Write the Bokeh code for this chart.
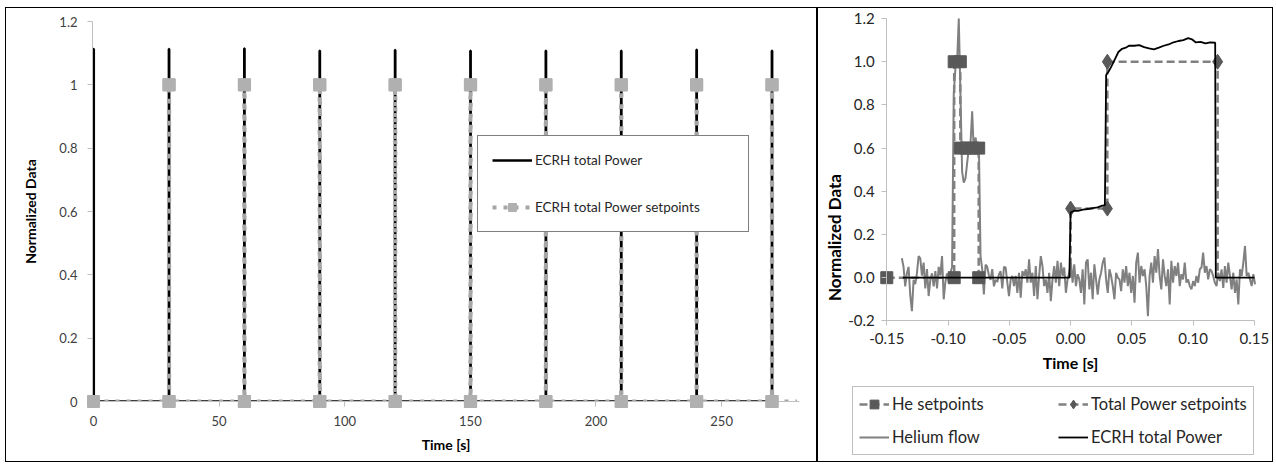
import math
from bokeh.plotting import figure
from bokeh.models import (Range1d, FixedTicker, CustomJSTickFormatter, Legend,
                          LegendItem, Label)
from bokeh.embed import file_html
from bokeh.resources import INLINE

FONT = "Lato"

# ---------------- left chart data ----------------
pulse_starts = [0, 30, 60, 90, 120, 150, 180, 210, 240, 270]
pulse_peaks = [1.113, 1.113, 1.115, 1.108, 1.110, 1.108, 1.108, 1.108, 1.111, 1.108]
pulse_length = 0.12
setpoint_starts = [30, 60, 90, 120, 150, 180, 210, 240, 270]
setpoint_level = 1.0
setpoint_first = 0
setpoint_last = 280
left_xticks = [0, 50, 100, 150, 200, 250]
left_yticks = [0, 0.2, 0.4, 0.6, 0.8, 1.0, 1.2]

# ---------------- right chart data ----------------
he_t = [-0.15, -0.095, -0.095, -0.09, -0.09, -0.085, -0.08, -0.075, -0.075]
he_v = [0.0, 0.0, 1.0, 1.0, 0.6, 0.6, 0.6, 0.6, 0.0]
pw_t = [0.0, 0.0, 0.03, 0.03, 0.12, 0.12]
pw_v = [0.0, 0.32, 0.32, 1.0, 1.0, 0.0]
pw_marked = [1, 2, 3, 4]
helium_t0 = -0.1377
helium_dt = 0.001366
helium_v = [
    0.09, 0.05, -0.04, 0.02, 0.05, -0.08, -0.155, -0.01, -0.03, 0.02,
    0.10, 0.09, 0.01, 0.07, -0.05, 0.04, -0.085, -0.01, 0.02, -0.04,
    0.03, -0.05, 0.05, 0.01, 0.10, -0.10, -0.02, 0.02, -0.02, 0.02,
    0.05, 0.85, 0.97, 1.0, 1.2, 0.85, 0.49, 0.44, 0.46, 0.53,
    0.60, 0.62, 0.77, 0.58, 0.65, 0.60, 0.62, 0.10, 0.04, -0.078,
    0.06, 0.05, 0.01, -0.01, 0.04, -0.04, -0.01, -0.02, 0.015, 0.03,
    -0.05, 0.05, 0.047, -0.023, -0.085, -0.008, 0.008, -0.039, 0.008, -0.07,
    0.023, -0.093, 0.031, 0.008, 0.039, -0.023, 0.085, -0.023, 0.023, -0.085,
    0.054, -0.10, 0.008, 0.10, 0.054, -0.039, -0.008, -0.07, 0.023, -0.109,
    -0.008, 0.054, -0.023, 0.078, -0.039, 0.07, 0.008, 0.047, -0.07, -0.008,
    0.023, 0.07, -0.023, 0.062, -0.039, 0.016, -0.008, -0.07, 0.039, -0.124,
    0.07, 0.085, -0.054, 0.023, -0.10, 0.062, -0.008, -0.078, -0.008, 0.023,
    0.07, 0.093, -0.008, -0.07, 0.039, 0.008, -0.039, -0.10, 0.023, 0.0,
    -0.008, -0.062, 0.039, -0.023, 0.054, -0.039, 0.023, -0.07, 0.008, -0.116,
    0.07, 0.116, -0.023, 0.054, 0.008, 0.039, -0.039, -0.178, 0.008, 0.07,
    -0.023, 0.10, 0.023, 0.132, 0.008, -0.054, 0.085, 0.008, -0.039, 0.039,
    -0.124, 0.078, -0.023, 0.054, 0.008, 0.07, -0.039, 0.016, -0.008, 0.07,
    -0.023, -0.008, -0.039, -0.054, -0.016, -0.039, 0.008, -0.023, 0.039, 0.047,
    0.116, 0.023, 0.054, -0.008, 0.039, 0.031, 0.008, -0.023, -0.039, 0.023,
    -0.016, 0.039, -0.047, 0.054, -0.023, 0.07, 0.008, -0.054, 0.023, -0.07,
    -0.008, -0.124, 0.039, 0.008, 0.07, 0.147, 0.008, 0.023, -0.008, -0.039,
    0.016, -0.031,
]
ecrh_t = [-0.137, -0.001, 0.0, 0.003, 0.006, 0.010, 0.014, 0.018, 0.022, 0.026,
          0.028, 0.029, 0.031, 0.033, 0.036, 0.039, 0.042, 0.045, 0.048, 0.052,
          0.056, 0.060, 0.064, 0.068, 0.072, 0.076, 0.080, 0.084, 0.088, 0.092,
          0.096, 0.099, 0.102, 0.106, 0.110, 0.114, 0.118, 0.1185, 0.15]
ecrh_v = [0.0, 0.0, 0.302, 0.31, 0.309, 0.315, 0.318, 0.322, 0.326, 0.334,
          0.336, 0.938, 0.955, 0.975, 1.01, 1.045, 1.06, 1.065, 1.075, 1.074,
          1.077, 1.068, 1.062, 1.057, 1.065, 1.074, 1.08, 1.09, 1.096, 1.1,
          1.109, 1.104, 1.09, 1.092, 1.085, 1.09, 1.088, 0.0, 0.0]
right_xticks = [-0.15, -0.10, -0.05, 0.0, 0.05, 0.10, 0.15]
right_yticks = [-0.2, 0.0, 0.2, 0.4, 0.6, 0.8, 1.0, 1.2]
right_xlim = (-0.15, 0.15)
right_ylim = (-0.2, 1.2)


def style_axes(p, tick_size, tick_color):
    for ax in (p.xaxis[0], p.yaxis[0]):
        ax.axis_line_color = "#BFBFBF"
        ax.major_tick_line_color = "#BFBFBF"
        ax.minor_tick_line_color = None
        ax.major_tick_in = 0
        ax.major_tick_out = 5
        ax.major_label_text_font = FONT
        ax.major_label_text_font_size = tick_size
        ax.major_label_text_color = tick_color
        ax.axis_label_text_font = FONT
        ax.axis_label_text_font_style = "bold"
        ax.axis_label_text_color = "#000000"
    p.grid.visible = False
    p.outline_line_color = None


# ================= left figure =================
p1 = figure(width=810, height=453, x_range=Range1d(-0.4, 281), y_range=Range1d(0, 1.2),
            output_backend="svg", toolbar_location=None,
            min_border_left=86, min_border_right=19, min_border_top=13, min_border_bottom=62,
            styles={"border": "1px solid #000000", "box-sizing": "content-box",
                    "float": "left", "margin-left": "5px", "margin-top": "7px"})
style_axes(p1, "13px", "#404040")
p1.xaxis.ticker = FixedTicker(ticks=left_xticks)
p1.yaxis.ticker = FixedTicker(ticks=left_yticks)
p1.xaxis.formatter = CustomJSTickFormatter(code="return String(Math.round(tick));")
p1.yaxis.formatter = CustomJSTickFormatter(code="return String(Math.round(tick*10)/10);")
p1.xaxis.axis_label = "Time [s]"
p1.yaxis.axis_label = "Normalized Data"
p1.xaxis.axis_label_text_font_size = "14px"
p1.yaxis.axis_label_text_font_size = "14px"
p1.xaxis.major_label_standoff = 9
p1.xaxis.axis_label_standoff = 7
p1.yaxis.major_label_standoff = 10
p1.yaxis.axis_label_standoff = 17

ex, ey = [], []
for s, pk in zip(pulse_starts, pulse_peaks):
    ex += [s, s, s + pulse_length, s + pulse_length]
    ey += [0, pk, pk, 0]
sx, sy = [setpoint_first], [0]
for s in setpoint_starts:
    sx += [s, s, s + pulse_length, s + pulse_length]
    sy += [0, setpoint_level, setpoint_level, 0]

r_ecrh1 = p1.line(ex, ey, line_color="#000000", line_width=2.5)
r_sp_line = p1.line(sx + [setpoint_last], sy + [0], line_color="#A6A6A6", line_width=4,
                    line_dash="4 7")
r_sp_mark = p1.scatter(sx, sy, marker="square", size=12, fill_color="#B0B0B0",
                       line_color="#B0B0B0", level="overlay")

leg1 = Legend(items=[LegendItem(label="ECRH total Power", renderers=[r_ecrh1]),
                     LegendItem(label="ECRH total Power setpoints", renderers=[r_sp_line, r_sp_mark])],
              location=(385, 169), margin=0, padding=14, spacing=27,
              label_height=20, glyph_height=20, glyph_width=40, label_standoff=3,
              label_width=199, border_line_color="#000000", border_line_width=1,
              label_text_font=FONT, label_text_font_size="13.5px",
              label_text_color="#262626", background_fill_alpha=1.0)
p1.add_layout(leg1, "center")

# ================= right figure =================
# the frame fills the panel so that the legend, the y title and the tick labels
# lie inside it; the axes are pinned at the chart's own limits
p2 = figure(width=454, height=453, x_range=Range1d(-0.2041, 0.1664),
            y_range=Range1d(-0.8465, 1.2465),
            output_backend="svg", toolbar_location=None,
            min_border_left=2, min_border_right=0, min_border_top=0, min_border_bottom=3,
            styles={"border": "1px solid #000000", "box-sizing": "content-box",
                    "float": "left", "margin-top": "7px"})
style_axes(p2, "15px", "#262626")
p2.xaxis.ticker = FixedTicker(ticks=right_xticks)
p2.yaxis.ticker = FixedTicker(ticks=right_yticks)
p2.xaxis.formatter = CustomJSTickFormatter(code="return tick.toFixed(2);")
p2.yaxis.formatter = CustomJSTickFormatter(code="return tick.toFixed(1);")
p2.xaxis.fixed_location = right_ylim[0]
p2.yaxis.fixed_location = right_xlim[0]
p2.xaxis.bounds = right_xlim
p2.yaxis.bounds = right_ylim
p2.xaxis.axis_label = "Time [s]"
p2.xaxis.axis_label_text_font_size = "16px"
p2.xaxis.major_label_standoff = 7
p2.xaxis.axis_label_standoff = 6
p2.yaxis.major_label_standoff = 7

helium_t = [helium_t0 + i * helium_dt for i in range(len(helium_v))]
pw_mt = [pw_t[i] for i in pw_marked]
pw_mv = [pw_v[i] for i in pw_marked]

r_he_line = p2.line(he_t, he_v, line_color="#808080", line_width=2.5, line_dash="8 4")
r_pw_line = p2.line(pw_t, pw_v, line_color="#808080", line_width=2.5, line_dash="8 4")
r_flow = p2.line(helium_t, helium_v, line_color="#808080", line_width=2)
r_he_mark = p2.scatter(he_t, he_v, marker="square", size=12, fill_color="#595959",
                       line_color="#595959")
r_pw_mark = p2.scatter(pw_mt, pw_mv, marker="diamond", size=15, fill_color="#595959",
                       line_color="#595959")
r_ecrh2 = p2.line(ecrh_t, ecrh_v, line_color="#000000", line_width=1.8)

p2.add_layout(Label(x=-0.1925, y=0.186, text="Normalized Data", angle=math.pi / 2,
                    text_align="center", text_baseline="middle",
                    text_font=FONT, text_font_style="bold", text_font_size="17px",
                    text_color="#000000"))

leg2 = Legend(items=[LegendItem(label="He setpoints", renderers=[r_he_line, r_he_mark]),
                     LegendItem(label="Helium flow", renderers=[r_flow]),
                     LegendItem(label="Total Power setpoints", renderers=[r_pw_line, r_pw_mark]),
                     LegendItem(label="ECRH total Power", renderers=[r_ecrh2])],
              location=(32, 5), ncols=2, margin=0, padding=6, spacing=11,
              label_height=20, glyph_height=22, glyph_width=30, label_standoff=3,
              label_width=155, border_line_color="#808080", border_line_width=1,
              label_text_font=FONT, label_text_font_size="16.5px",
              label_text_color="#262626", background_fill_alpha=1.0)
p2.add_layout(leg2, "center")

open("out.html", "w").write(file_html([p1, p2], INLINE))
